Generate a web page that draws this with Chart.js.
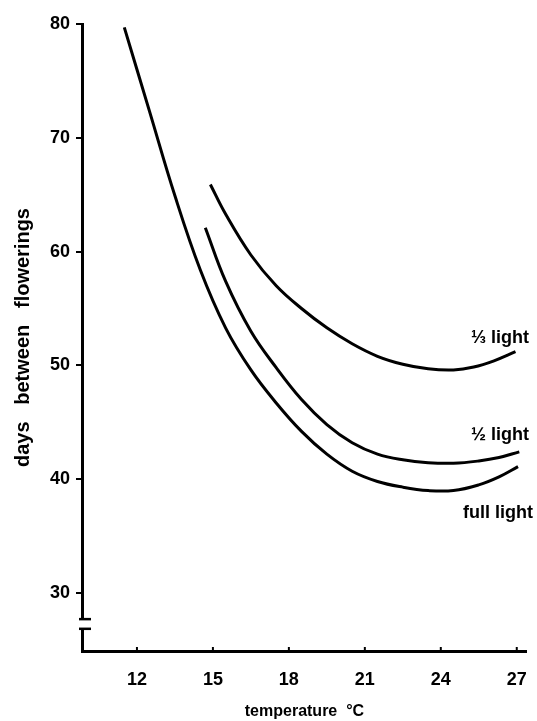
<!DOCTYPE html>
<html>
<head>
    <title>Days between flowerings vs temperature</title>
    <script src="https://cdn.jsdelivr.net/npm/chart.js"></script>
    <style>
        html, body { margin: 0; padding: 0; background: #fff; }
        #wrap { width: 537px; height: 721px; }
    </style>
</head>
<body>
    <div id="wrap"><canvas id="chart" width="537" height="721"></canvas></div>

    <script>
        // values (temperature in deg C, days between flowerings)
        const fullTemp = [11.5, 12.5, 13.5, 14.5, 15.5, 16.5, 17.5, 18.5, 19.5, 20.5, 21.5, 22.5, 23.5, 24.5, 25.5, 26.3, 27.05];
        const fullDays = [79.7, 72.3, 64.9, 58.4, 53.3, 49.6, 46.7, 44.2, 42.2, 40.7, 39.8, 39.3, 39.0, 39.0, 39.5, 40.2, 41.1];

        const halfTemp = [14.7, 15.5, 16.5, 17.5, 18.5, 19.5, 20.5, 21.5, 22.5, 23.5, 24.5, 25.5, 26.3, 27.1];
        const halfDays = [62.1, 57.4, 53.0, 49.8, 47.0, 44.8, 43.2, 42.2, 41.7, 41.45, 41.4, 41.6, 41.9, 42.4];

        const thirdTemp = [14.9, 15.5, 16.5, 17.5, 18.5, 19.5, 20.5, 21.5, 22.5, 23.5, 24.5, 25.3, 26.1, 26.95];
        const thirdDays = [65.9, 63.3, 59.7, 57.0, 55.0, 53.3, 51.9, 50.8, 50.1, 49.7, 49.6, 49.85, 50.4, 51.2];

        const xTicks = [12, 15, 18, 21, 24, 27];
        const yTicks = [30, 40, 50, 60, 70, 80];

        const curveNames = ['\u2153 light', '\u00BD light', 'full light'];
        // right end of each curve label, in data units
        const curveLabelAt = [[27.48, 52.4], [27.48, 43.9], [27.64, 37.0]];

        // broken part of the y axis
        const breakFrom = 27.7;
        const breakTo = 26.85;

        const toPoints = (xs, ys) => xs.map((v, i) => ({ x: v, y: ys[i] }));

        Chart.defaults.font.family = "'Liberation Sans', Arial, sans-serif";
        Chart.defaults.color = '#000';

        const decor = {
            id: 'decor',
            afterDraw(chart) {
                const { ctx, scales: { x, y } } = chart;
                ctx.save();
                ctx.strokeStyle = '#000';

                // little upward ticks on the x axis
                ctx.lineWidth = 2;
                xTicks.forEach(v => {
                    const px = x.getPixelForValue(v);
                    ctx.beginPath();
                    ctx.moveTo(px, y.bottom);
                    ctx.lineTo(px, y.bottom - 4);
                    ctx.stroke();
                });

                // axis break
                const b1 = y.getPixelForValue(breakFrom);
                const b2 = y.getPixelForValue(breakTo);
                ctx.fillStyle = '#fff';
                ctx.fillRect(x.left - 5, b1, 10, b2 - b1);
                ctx.lineWidth = 2.5;
                [b1, b2].forEach(py => {
                    ctx.beginPath();
                    ctx.moveTo(x.left - 3, py);
                    ctx.lineTo(x.left + 9, py);
                    ctx.stroke();
                });

                // curve labels
                ctx.fillStyle = '#000';
                ctx.font = "bold 18px 'Liberation Sans', Arial, sans-serif";
                ctx.textAlign = 'right';
                ctx.textBaseline = 'middle';
                curveNames.forEach((t, i) => {
                    ctx.fillText(t, x.getPixelForValue(curveLabelAt[i][0]), y.getPixelForValue(curveLabelAt[i][1]));
                });
                ctx.restore();
            }
        };

        const lineStyle = {
            borderColor: '#000',
            borderWidth: 3,
            pointRadius: 0,
            fill: false,
            tension: 0.4
        };

        new Chart(document.getElementById('chart'), {
            type: 'line',
            data: {
                datasets: [
                    { label: 'full light', data: toPoints(fullTemp, fullDays), ...lineStyle },
                    { label: '1/2 light', data: toPoints(halfTemp, halfDays), ...lineStyle },
                    { label: '1/3 light', data: toPoints(thirdTemp, thirdDays), ...lineStyle }
                ]
            },
            options: {
                responsive: false,
                animation: false,
                layout: { padding: { top: 24, right: 10, left: 0, bottom: 0 } },
                plugins: {
                    legend: { display: false },
                    tooltip: { enabled: false }
                },
                scales: {
                    x: {
                        type: 'linear',
                        min: 9.83,
                        max: 27.4,
                        afterBuildTicks: s => { s.ticks = xTicks.map(v => ({ value: v })); },
                        afterFit: s => { s.height = 70; },
                        border: { color: '#000', width: 3 },
                        grid: { display: false },
                        ticks: { color: '#000', padding: 10, font: { size: 18, weight: 'bold' } },
                        title: {
                            display: true,
                            text: 'temperature  \u00B0C',
                            color: '#000',
                            font: { size: 16, weight: 'bold' },
                            padding: { top: 0, bottom: 0 }
                        }
                    },
                    y: {
                        min: 24.9,
                        max: 80,
                        afterBuildTicks: s => { s.ticks = yTicks.map(v => ({ value: v })); },
                        afterFit: s => { s.width = 82; },
                        border: { color: '#000', width: 3 },
                        grid: { drawOnChartArea: false, drawTicks: true, tickLength: 6, color: '#000', lineWidth: 2 },
                        ticks: { color: '#000', padding: 6, font: { size: 18, weight: 'bold' } },
                        title: {
                            display: true,
                            text: 'days   between   flowerings',
                            color: '#000',
                            font: { size: 20, weight: 'bold' },
                            padding: { top: 11, bottom: 0 }
                        }
                    }
                }
            },
            plugins: [decor]
        });
    </script>
</body>
</html>
